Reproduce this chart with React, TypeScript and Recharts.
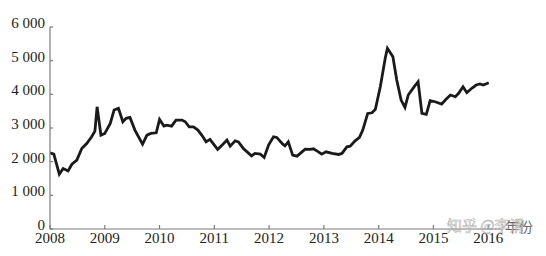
import React from "react"
import { LineChart, Line, XAxis, YAxis } from "recharts"

// decimal year of each vertex
const years = [
  2008.0, 2008.07, 2008.17, 2008.24, 2008.33, 2008.4, 2008.49, 2008.58, 2008.67, 2008.76,
  2008.82, 2008.86, 2008.93, 2009.0, 2009.1, 2009.17, 2009.25, 2009.33, 2009.39, 2009.46,
  2009.55, 2009.69, 2009.77, 2009.84, 2009.94, 2010.0, 2010.08, 2010.13, 2010.22, 2010.3,
  2010.41, 2010.47, 2010.54, 2010.62, 2010.7, 2010.77, 2010.85, 2010.92, 2011.06, 2011.14,
  2011.23, 2011.29, 2011.38, 2011.44, 2011.53, 2011.68, 2011.74, 2011.84, 2011.91, 2011.99,
  2012.08, 2012.14, 2012.25, 2012.29, 2012.35, 2012.43, 2012.51, 2012.6, 2012.66, 2012.75,
  2012.81, 2012.9, 2012.96, 2013.04, 2013.15, 2013.27, 2013.33, 2013.42, 2013.48, 2013.57,
  2013.65, 2013.71, 2013.8, 2013.88, 2013.94, 2014.03, 2014.12, 2014.16, 2014.26, 2014.33,
  2014.41, 2014.48, 2014.54, 2014.64, 2014.72, 2014.79, 2014.87, 2014.94, 2015.03, 2015.15,
  2015.23, 2015.31, 2015.4, 2015.46, 2015.54, 2015.61, 2015.7, 2015.78, 2015.85, 2015.91,
  2016.01,
]

const prices = [
  2262, 2223, 1628, 1797, 1726, 1925, 2045, 2393, 2540, 2738,
  2908, 3631, 2789, 2839, 3137, 3533, 3583, 3185, 3286, 3315,
  2938, 2521, 2789, 2839, 2857, 3256, 3057, 3086, 3057, 3235,
  3235, 3185, 3036, 3036, 2938, 2789, 2589, 2661, 2363, 2491,
  2640, 2461, 2619, 2589, 2393, 2173, 2244, 2223, 2125, 2491,
  2738, 2720, 2521, 2470, 2589, 2193, 2164, 2292, 2372, 2363,
  2382, 2292, 2223, 2292, 2244, 2214, 2244, 2441, 2461, 2619,
  2720, 2938, 3434, 3452, 3553, 4226, 5071, 5369, 5119, 4426,
  3830, 3613, 3979, 4208, 4375, 3434, 3404, 3810, 3780, 3711,
  3851, 3979, 3929, 4030, 4226, 4048, 4179, 4277, 4307, 4277,
  4345,
]

const xTicks = [2008, 2009, 2010, 2011, 2012, 2013, 2014, 2015, 2016]
const yTicks = [0, 1000, 2000, 3000, 4000, 5000, 6000]

const data = years.map((year, i) => ({ year, price: prices[i] }))

const AXIS = "#7a7a7a"
const FONT = "Liberation Serif"

const fmt = (v: number) => (v >= 1000 ? `${Math.floor(v / 1000)} ${String(v % 1000).padStart(3, "0")}` : String(v))

function XTick(props: any) {
  const { x, y, payload } = props
  return (
    <g>
      <line x1={x} x2={x} y1={y} y2={y - 4} stroke={AXIS} strokeWidth={1.2} />
      <text x={x} y={y + 14} textAnchor="middle" fontFamily={FONT} fontSize={15} style={{ fontFamily: FONT }} fill="#222">
        {payload.value}
      </text>
    </g>
  )
}

function YTick(props: any) {
  const { x, y, payload } = props
  return (
    <g>
      <line x1={x} x2={x + 3} y1={y} y2={y} stroke={AXIS} strokeWidth={1.2} />
      <text x={x - 5} y={y + 1} textAnchor="end" fontFamily={FONT} fontSize={15} style={{ fontFamily: FONT }} fill="#222">
        {fmt(payload.value)}
      </text>
    </g>
  )
}

export default function App() {
  return (
    <div style={{ position: "relative", width: 546, height: 256, background: "#fff", fontFamily: FONT }}>
      <style>{`body{margin:0}`}</style>
      <LineChart
        width={546}
        height={256}
        data={data}
        margin={{ top: 27, right: 43, left: 0, bottom: 0 }}
        style={{ fontFamily: FONT }}
      >
        <XAxis
          dataKey="year"
          type="number"
          domain={[2008, 2016.27]}
          ticks={xTicks}
          allowDataOverflow
          height={27}
          tickSize={0}
          tickMargin={0}
          tick={XTick}
          axisLine={{ stroke: AXIS, strokeWidth: 1.2 }}
          tickLine={false}
        />
        <YAxis
          domain={[0, 6000]}
          ticks={yTicks}
          width={50}
          tickSize={0}
          tickMargin={0}
          tick={YTick}
          axisLine={{ stroke: AXIS, strokeWidth: 1.2 }}
          tickLine={false}
        />
        <Line
          type="linear"
          dataKey="price"
          stroke="#1a1a1a"
          strokeWidth={2.8}
          dot={false}
          isAnimationActive={false}
        />
      </LineChart>
      <div
        style={{
          position: "absolute",
          left: 505,
          top: 217,
          fontFamily: "'Noto Sans CJK SC'",
          fontSize: 14,
          color: "#666",
          lineHeight: "18px",
        }}
      >
        年份
      </div>
      <div
        style={{
          position: "absolute",
          left: 447,
          top: 215,
          fontFamily: "'Noto Sans CJK SC'",
          fontSize: 15,
          lineHeight: "20px",
          color: "rgba(255,255,255,0.55)",
          WebkitTextStroke: "0.6px rgba(140,140,140,0.7)",
          whiteSpace: "nowrap",
        }}
      >
        知乎 @李滑
      </div>
    </div>
  )
}
